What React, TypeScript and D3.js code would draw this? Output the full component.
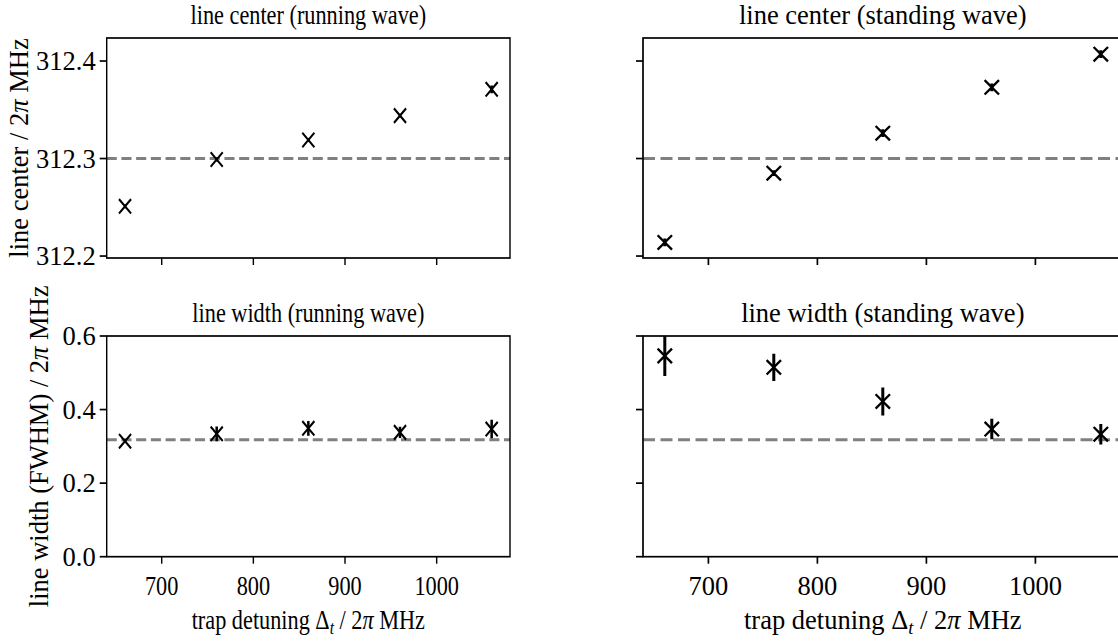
import React from "react";
import * as d3 from "d3";

const detunings = [660, 760, 860, 960, 1060];
const centerRunning = [312.251, 312.299, 312.319, 312.344, 312.371];
const centerRunningErr = [0.002, 0.002, 0.002, 0.002, 0.004];
const centerStanding = [312.214, 312.285, 312.326, 312.373, 312.407];
const centerStandingErr = [0.004, 0.003, 0.004, 0.004, 0.004];
const widthRunning = [0.314, 0.334, 0.349, 0.338, 0.347];
const widthRunningErr = [0.005, 0.02, 0.02, 0.015, 0.025];
const widthStanding = [0.546, 0.515, 0.422, 0.347, 0.333];
const widthStandingErr = [0.055, 0.037, 0.038, 0.028, 0.028];
const centerRef = 312.3;
const widthRef = 0.318;
const xTicks = [700, 800, 900, 1000];
const centerTicks = [312.2, 312.3, 312.4];
const widthTicks = [0.0, 0.2, 0.4, 0.6];

const W = 1118;
const H = 642;
const FONT = "'Liberation Serif', 'DejaVu Serif', serif";
const FS = 26.5;

type PanelProps = {
  id: string;
  x0: number;
  x1: number;
  y0: number;
  y1: number;
  yDomain: [number, number];
  values: number[];
  errs: number[];
  refValue: number;
  title: string;
  showXLabels: boolean;
  xLabel: boolean;
};

function Panel(p: PanelProps) {
  const x = d3.scaleLinear().domain([640, 1080]).range([p.x0, p.x1]);
  const y = d3.scaleLinear().domain(p.yDomain).range([p.y1, p.y0]);
  const tickLen = 7;
  const ms = 7.2;
  return (
    <g>
      <defs>
        <clipPath id={p.id}>
          <rect x={p.x0} y={p.y0} width={p.x1 - p.x0} height={p.y1 - p.y0} />
        </clipPath>
      </defs>
      <text x={(p.x0 + p.x1) / 2} y={p.y0 - 14} textAnchor="middle" fontSize={FS} fontFamily={FONT}>
        {p.title}
      </text>
      <g clipPath={`url(#${p.id})`}>
        <line
          x1={p.x0}
          x2={p.x1}
          y1={y(p.refValue)}
          y2={y(p.refValue)}
          stroke="#808080"
          strokeWidth={3}
          strokeDasharray="12 5.5"
        />
        {detunings.map((d, i) => (
          <g key={i}>
            <line
              x1={x(d)}
              x2={x(d)}
              y1={y(p.values[i] - p.errs[i])}
              y2={y(p.values[i] + p.errs[i])}
              stroke="#000"
              strokeWidth={3}
            />
            <path
              d={`M${x(d) - ms},${y(p.values[i]) - ms}L${x(d) + ms},${y(p.values[i]) + ms}M${x(d) - ms},${y(p.values[i]) + ms}L${x(d) + ms},${y(p.values[i]) - ms}`}
              stroke="#000"
              strokeWidth={2.3}
              fill="none"
            />
          </g>
        ))}
      </g>
      <rect
        x={p.x0}
        y={p.y0}
        width={p.x1 - p.x0}
        height={p.y1 - p.y0}
        fill="none"
        stroke="#000"
        strokeWidth={1.7}
      />
      {xTicks.map((t) => (
        <g key={t}>
          <line x1={x(t)} x2={x(t)} y1={p.y1} y2={p.y1 + tickLen} stroke="#000" strokeWidth={1.7} />
          {p.showXLabels && (
            <text x={x(t)} y={p.y1 + 38.5} textAnchor="middle" fontSize={FS} fontFamily={FONT}>
              {t}
            </text>
          )}
        </g>
      ))}
      {p.xLabel && (
        <text x={(p.x0 + p.x1) / 2} y={p.y1 + 72.5} textAnchor="middle" fontSize={FS} fontFamily={FONT}>
          trap detuning Δ<tspan fontStyle="italic" fontSize={FS * 0.7} dy={5}>t</tspan>
          <tspan dy={-5}> / 2</tspan>
          <tspan fontStyle="italic">π</tspan> MHz
        </text>
      )}
    </g>
  );
}

function YAxis(props: { x0: number; y0: number; y1: number; domain: [number, number]; ticks: number[]; labels: boolean }) {
  const y = d3.scaleLinear().domain(props.domain).range([props.y1, props.y0]);
  const fmt = d3.format(".1f");
  return (
    <g>
      {props.ticks.map((t) => (
        <g key={t}>
          <line x1={props.x0 - 7} x2={props.x0} y1={y(t)} y2={y(t)} stroke="#000" strokeWidth={1.7} />
          {props.labels && (
            <text x={props.x0 - 11} y={y(t)} dy="0.34em" textAnchor="end" fontSize={FS} fontFamily={FONT}>
              {fmt(t)}
            </text>
          )}
        </g>
      ))}
    </g>
  );
}

export default function App() {
  const panelW = 479.6;
  const leftX0 = 106.7;
  const leftX1 = leftX0 + panelW;
  const squeeze = 403.3 / panelW;
  const rightX0 = 643;
  const rightX1 = rightX0 + panelW;
  const topY0 = 38;
  const topY1 = 258;
  const botY0 = 336;
  const botY1 = 556.7;
  const cDom: [number, number] = [312.198, 312.4236];
  const wDom: [number, number] = [0, 0.6];
  return (
    <div style={{ position: "absolute", left: 0, top: 0 }}>
      <svg width={W} height={H} style={{ display: "block", background: "#fff" }}>
        <g transform={`translate(${leftX0},0) scale(${squeeze},1) translate(${-leftX0},0)`}>
          <Panel id="c1" x0={leftX0} x1={leftX1} y0={topY0} y1={topY1} yDomain={cDom}
            values={centerRunning} errs={centerRunningErr} refValue={centerRef}
            title="line center (running wave)" showXLabels={false} xLabel={false} />
          <Panel id="c3" x0={leftX0} x1={leftX1} y0={botY0} y1={botY1} yDomain={wDom}
            values={widthRunning} errs={widthRunningErr} refValue={widthRef}
            title="line width (running wave)" showXLabels={true} xLabel={true} />
        </g>
        <YAxis x0={leftX0} y0={topY0} y1={topY1} domain={cDom} ticks={centerTicks} labels={true} />
        <YAxis x0={leftX0} y0={botY0} y1={botY1} domain={wDom} ticks={widthTicks} labels={true} />
        <Panel id="c2" x0={rightX0} x1={rightX1} y0={topY0} y1={topY1} yDomain={cDom}
          values={centerStanding} errs={centerStandingErr} refValue={centerRef}
          title="line center (standing wave)" showXLabels={false} xLabel={false} />
        <Panel id="c4" x0={rightX0} x1={rightX1} y0={botY0} y1={botY1} yDomain={wDom}
          values={widthStanding} errs={widthStandingErr} refValue={widthRef}
          title="line width (standing wave)" showXLabels={true} xLabel={true} />
        <YAxis x0={rightX0} y0={topY0} y1={topY1} domain={cDom} ticks={centerTicks} labels={false} />
        <YAxis x0={rightX0} y0={botY0} y1={botY1} domain={wDom} ticks={widthTicks} labels={false} />
        <text transform={`translate(28,${(topY0 + topY1) / 2}) rotate(-90)`} textAnchor="middle"
          fontSize={FS} fontFamily={FONT}>
          line center / 2<tspan fontStyle="italic">π</tspan> MHz
        </text>
        <text transform={`translate(48,${(botY0 + botY1) / 2}) rotate(-90)`} textAnchor="middle"
          fontSize={FS} fontFamily={FONT}>
          line width (FWHM) / 2<tspan fontStyle="italic">π</tspan> MHz
        </text>
      </svg>
    </div>
  );
}
